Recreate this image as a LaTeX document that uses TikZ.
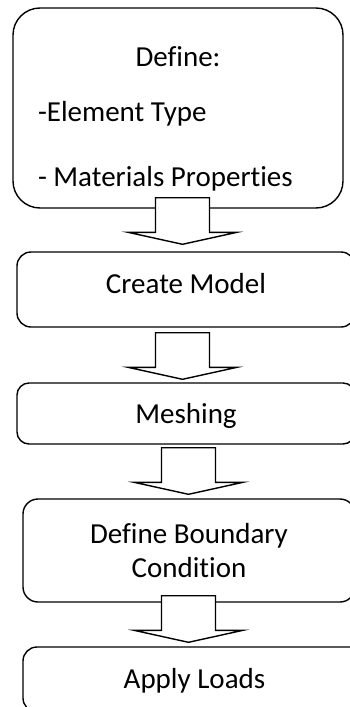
\documentclass[tikz,border=0pt]{standalone}
\usepackage{fontspec}
\setmainfont{Carlito}[RawFeature={-liga;-clig;-dlig}]
\usepackage{tikz}
\usetikzlibrary{calc}

\newcommand{\flowarrow}[5]{%
  \draw[blockarrow] let \p1=(#1.south), \p2=(#2.north) in
    (#3pt-27pt,\y1+#4) -- (#3pt-27pt,\y2+#5+12pt) -- (#3pt-54.5pt,\y2+#5+12pt)
    -- (#3pt,\y2+#5) -- (#3pt+54.5pt,\y2+#5+12pt) -- (#3pt+27pt,\y2+#5+12pt)
    -- (#3pt+27pt,\y1+#4) -- cycle;}

\begin{document}
\begin{tikzpicture}[x=1pt, y=-1pt,
    every node/.style={font=\fontsize{29}{34}\selectfont, inner sep=0pt},
    stepbox/.style={draw, line width=1.4pt, rounded corners=#1, align=center},
    stepbox/.default=14pt,
    blockarrow/.style={draw, fill=white, line width=1.4pt, line join=miter}]
      \useasboundingbox (0,0) rectangle (350,707);
      \clip (0,0) rectangle (350,707);

      \node[stepbox=27pt, minimum width=330pt, minimum height=200pt,
            text width=280pt, align=flush left] (define) at (178,108)
        {\makebox[280pt]{\rule{0pt}{41pt}Define:}\\[21pt]
         -Element Type\\[31pt]
         - Materials Properties};
      \node[stepbox, minimum width=338pt, minimum height=75pt,
            text height=20pt, text depth=13pt] (model) at (186,289.5) {Create Model};
      \node[stepbox=12pt, minimum width=338pt, minimum height=61pt,
            text height=20pt, text depth=1pt] (mesh) at (186,413.5) {Meshing};
      \node[stepbox=15pt, minimum width=332pt, minimum height=103pt] (bc) at (189,550.5)
        {Define Boundary\\Condition};
      \node[stepbox, minimum width=343pt, minimum height=65pt,
            text height=20pt, text depth=3pt] (loads) at (194.5,679.5) {Apply Loads};

      \flowarrow{define}{model}{182.5}{11pt}{7pt}
      \flowarrow{model}{mesh}{182.5}{-5pt}{3pt}
      \flowarrow{mesh}{bc}{188.5}{-3pt}{4pt}
      \flowarrow{bc}{loads}{188.5}{7pt}{4pt}
    \end{tikzpicture}
\end{document}
